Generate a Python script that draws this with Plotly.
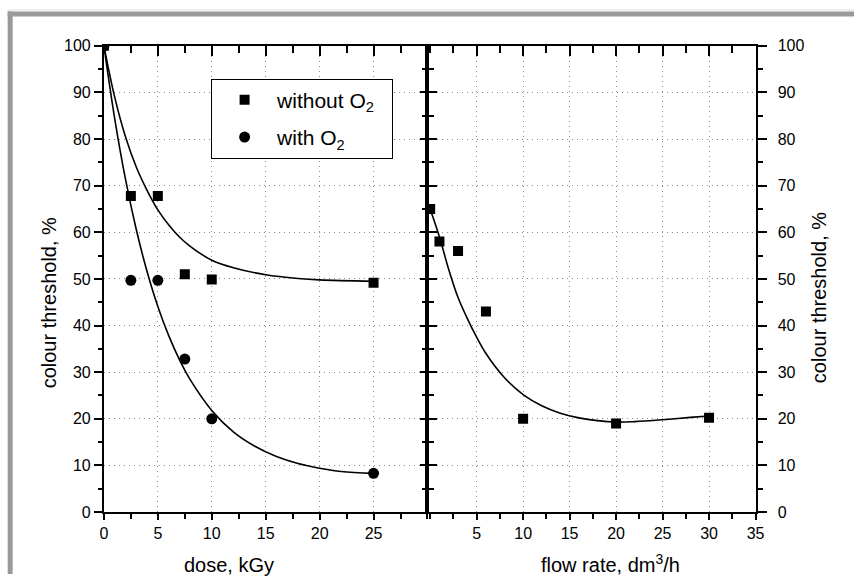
import plotly.graph_objects as go

# ---- data ----
dose_wo = [0, 2.5, 5, 7.5, 10, 25]
thr_wo = [100, 67.8, 67.8, 51, 49.9, 49.2]
dose_w = [0, 2.5, 5, 7.5, 10, 25]
thr_w = [100, 49.7, 49.7, 32.8, 20.0, 8.3]

fit_dose_wo = [0, 1, 2, 3, 4, 5, 6, 7, 8, 10, 12, 15, 18, 20, 25]
fit_thr_wo = [100, 89, 80.5, 74, 69, 64.8, 61.6, 59, 57, 54, 52.4, 50.9, 50.1, 49.8, 49.5]
fit_dose_w = [0, 1, 2, 3, 4, 5, 6, 7, 8, 10, 12, 14, 16, 18, 20, 22, 25]
fit_thr_w = [100, 84.4, 71.4, 60.6, 51.6, 44.1, 37.9, 32.7, 28.4, 21.8, 17.2, 14.1, 11.9, 10.4, 9.4, 8.7, 8.3]

flow = [0, 1, 3, 6, 10, 20, 30]
thr_flow = [65, 58, 56, 43, 20, 19, 20.2]
fit_flow = [0, 1, 2, 3, 4, 5, 6, 8, 10, 12, 14, 16, 18, 20, 22, 25, 28, 30]
fit_thr_flow = [65, 59, 52, 46, 41.5, 37.5, 34, 28.8, 25.2, 22.8, 21.2, 20.2, 19.6, 19.3, 19.4, 19.8, 20.3, 20.6]

dose_ticks = [0, 5, 10, 15, 20, 25]
flow_ticks = [5, 10, 15, 20, 25, 30, 35]
y_ticks = [0, 10, 20, 30, 40, 50, 60, 70, 80, 90, 100]

W, H = 863, 583
# the photographed page is offset/scaled slightly; map wanted picture pixels to layout pixels
SX, OX = 0.9878, 3.3
SY, OY = 0.9765, 6.5
def px(x): return ((x - OX) / SX) / W
def py(y): return 1 - ((y - OY) / SY) / H

FONT = "Liberation Sans, Arial, sans-serif"
NB = "\u00a0"
fig = go.Figure()

line = dict(color="black", width=1.6, shape="spline", smoothing=1.0)
fig.add_trace(go.Scatter(x=fit_dose_wo, y=fit_thr_wo, mode="lines", line=line,
                         showlegend=False, hoverinfo="skip", xaxis="x", yaxis="y"))
fig.add_trace(go.Scatter(x=fit_dose_w, y=fit_thr_w, mode="lines", line=line,
                         showlegend=False, hoverinfo="skip", xaxis="x", yaxis="y"))
fig.add_trace(go.Scatter(x=dose_w, y=thr_w, mode="markers", name="with O<sub>2</sub>",
                         marker=dict(symbol="circle", size=11, color="black"),
                         legendrank=2, legendgroup="b", xaxis="x", yaxis="y"))
fig.add_trace(go.Scatter(x=dose_wo, y=thr_wo, mode="markers", name="without O<sub>2</sub>" + NB * 2,
                         marker=dict(symbol="square", size=10, color="black"),
                         legendrank=1, legendgroup="a", xaxis="x", yaxis="y"))
fig.add_trace(go.Scatter(x=fit_flow, y=fit_thr_flow, mode="lines", line=line,
                         showlegend=False, hoverinfo="skip", xaxis="x2", yaxis="y2"))
fig.add_trace(go.Scatter(x=flow, y=thr_flow, mode="markers",
                         marker=dict(symbol="square", size=10, color="black"),
                         showlegend=False, xaxis="x2", yaxis="y2"))
# helper traces to register overlay axes (no marks)
for xa, ya in [("x3", "y"), ("x", "y3"), ("x4", "y2"), ("x2", "y4")]:
    fig.add_trace(go.Scatter(x=[None], y=[None], mode="markers", showlegend=False,
                             hoverinfo="skip", xaxis=xa, yaxis=ya))

dom_l = [px(103.5), px(428)]
dom_r = [px(428), px(757)]
dom_y = [py(513.5), py(44.5)]
tickfont = dict(family=FONT, size=16, color="black")
grid = dict(showgrid=True, gridcolor="#8a8a8a", griddash="1px,4px", gridwidth=1)

def minor(kind, dt, ln):
    return dict(ticks=kind, tick0=0, dtick=dt, ticklen=ln, tickwidth=2,
                tickcolor="black", showgrid=False)

fig.update_layout(
    width=W, height=H, margin=dict(l=0, r=0, t=0, b=0),
    paper_bgcolor="white", plot_bgcolor="white",
    font=dict(family=FONT, color="black"),
    xaxis=dict(domain=dom_l, range=[0, 30], anchor="y", tickmode="array", tickvals=dose_ticks,
               ticks="outside", ticklen=6, tickwidth=2, tickcolor="black",
               showline=True, linecolor="black", linewidth=2, tickfont=tickfont,
               minor=minor("outside", 2.5, 5), zeroline=False, **grid),
    yaxis=dict(domain=dom_y, range=[0, 100], anchor="x", tickmode="array", tickvals=y_ticks,
               ticks="outside", ticklen=8, tickwidth=2, tickcolor="black",
               showline=True, linecolor="black", linewidth=2, tickfont=tickfont,
               minor=minor("outside", 5, 4), zeroline=False, **grid),
    xaxis2=dict(domain=dom_r, range=[-0.29, 35], anchor="y2", tickmode="array", tickvals=flow_ticks,
                ticks="outside", ticklen=6, tickwidth=2, tickcolor="black",
                showline=True, linecolor="black", linewidth=2, tickfont=tickfont,
                minor=minor("outside", 2.5, 5), zeroline=False, **grid),
    yaxis2=dict(domain=dom_y, range=[0, 100], anchor="x2", side="right", tickmode="array",
                tickvals=y_ticks, ticks="outside", ticklen=9, tickwidth=2, tickcolor="black",
                showline=True, linecolor="black", linewidth=2, tickfont=tickfont,
                ticklabelstandoff=8,
                minor=minor("outside", 5, 5), zeroline=False, **grid),
    xaxis3=dict(overlaying="x", side="top", anchor="y", range=[0, 30], tickmode="array",
                tickvals=dose_ticks + [30], ticks="inside", ticklen=10, tickwidth=2, tickcolor="black",
                showticklabels=False, showgrid=False, zeroline=False,
                showline=True, linecolor="black", linewidth=2, minor=minor("inside", 2.5, 7)),
    yaxis3=dict(overlaying="y", side="right", anchor="x", range=[0, 100], tickmode="array",
                tickvals=y_ticks, ticks="inside", ticklen=7, tickwidth=2, tickcolor="black",
                showticklabels=False, showgrid=False, zeroline=False,
                showline=True, linecolor="black", linewidth=2, minor=minor("inside", 5, 5)),
    xaxis4=dict(overlaying="x2", side="top", anchor="y2", range=[-0.29, 35], tickmode="array",
                tickvals=flow_ticks, ticks="inside", ticklen=10, tickwidth=2, tickcolor="black",
                showticklabels=False, showgrid=False, zeroline=False,
                showline=True, linecolor="black", linewidth=2, minor=minor("inside", 2.5, 7)),
    yaxis4=dict(overlaying="y2", side="left", anchor="x2", range=[0, 100], tickmode="array",
                tickvals=y_ticks, ticks="inside", ticklen=10, tickwidth=2, tickcolor="black",
                showticklabels=False, showgrid=False, zeroline=False,
                showline=True, linecolor="black", linewidth=2, minor=minor("inside", 5, 7)),
    legend=dict(x=px(211), y=py(77.5), xanchor="left", yanchor="top",
                bordercolor="black", borderwidth=1, bgcolor="white",
                font=dict(family=FONT, size=21, color="black"),
                tracegroupgap=7, itemwidth=55, traceorder="grouped"),
    showlegend=True,
)

ann_font = dict(family=FONT, size=20, color="black")
fig.add_annotation(x=px(229), y=py(567), xref="paper", yref="paper", text="dose, kGy",
                   showarrow=False, font=ann_font, xanchor="center", yanchor="middle")
fig.add_annotation(x=px(612), y=py(565), xref="paper", yref="paper", text="flow rate, dm<sup>3</sup>/h",
                   showarrow=False, font=ann_font, xanchor="center", yanchor="middle")
fig.add_annotation(x=px(48), y=py(303), xref="paper", yref="paper", text="colour threshold, %",
                   showarrow=False, font=ann_font, textangle=-90, xanchor="center", yanchor="middle")
fig.add_annotation(x=px(820), y=py(298), xref="paper", yref="paper", text="colour threshold, %",
                   showarrow=False, font=ann_font, textangle=-90, xanchor="center", yanchor="middle")

# grey frame (top and left edges)
fig.add_shape(type="rect", xref="paper", yref="paper", x0=px(7), x1=1.0, y0=py(15), y1=py(10),
              fillcolor="#9a9a9a", line=dict(width=0), layer="above")
fig.add_shape(type="rect", xref="paper", yref="paper", x0=px(7), x1=px(12), y0=0, y1=py(10),
              fillcolor="#9a9a9a", line=dict(width=0), layer="above")
fig.add_shape(type="line", xref="paper", yref="paper", x0=px(7), x1=1.0, y0=py(8.5), y1=py(8.5),
              line=dict(color="#dddddd", width=1), layer="above")

post = ("document.documentElement.style.margin='0';document.documentElement.style.overflow='hidden';"
        "document.body.style.margin='0';document.body.style.padding='0';document.body.style.overflow='hidden';"
        "var d=document.getElementById('{plot_id}');d.style.position='fixed';d.style.left='0px';d.style.top='0px';")
fig.write_html("out.html", config={"displayModeBar": False}, post_script=post)
